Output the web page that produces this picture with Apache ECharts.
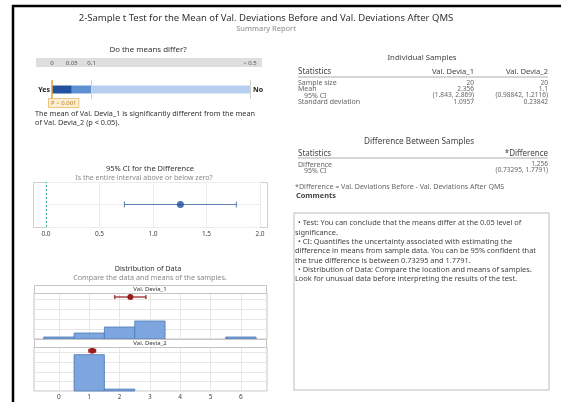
<!DOCTYPE html>
<html><head><meta charset="utf-8">
<script src="https://cdn.jsdelivr.net/npm/echarts@6/dist/echarts.min.js"></script>
<style>html,body{margin:0;padding:0;background:#fff}#c{width:561px;height:402px}</style>
</head><body><div id="c"></div>
<script>
// ---- test results ----
const pValue = 0.001;
const pBounds = [0, 0.05, 0.1, 0.5];          // evidence bar segments
const pTickLabels = ['0', '0.05', '0.1', '> 0.5'];
const diffEstimate = 1.256;
const diffCI = [0.73295, 1.7791];
const ciTicks = [0, 0.5, 1.0, 1.5, 2.0];

// ---- samples ----
const sampleNames = ['Val. Devia_1', 'Val. Devia_2'];
const sampleSize = [20, 20];
const means = [2.356, 1.1];
const meanCI = [[1.843, 2.869], [0.98842, 1.2116]];
const stdDev = [1.0957, 0.23842];

// ---- histograms (unit-width bins centred on the integers) ----
const binCenters = [0, 1, 2, 3, 4, 5, 6];
const countsBefore = [1, 3, 6, 9, 0, 0, 1];
const countsAfter = [0, 19, 1, 0, 0, 0, 0];
const histTicks = [0, 1, 2, 3, 4, 5, 6];

const commentLines = [
  ['• Test: You can conclude that the means differ at the 0.05 level of', 1],
  ['significance.', 0],
  ['• CI: Quantifies the uncertainty associated with estimating the', 1],
  ['difference in means from sample data. You can be 95% confident that', 0],
  ['the true difference is between 0.73295 and 1.7791.', 0],
  ['• Distribution of Data: Compare the location and means of samples.', 1],
  ['Look for unusual data before interpreting the results of the test.', 0]
];

const FONT = 'Noto Sans';
const MEAN_ROW = 21;   // height at which the mean / CI marker sits in each panel
const HIST_MAX = 23;

function txt(x, y, text, o) {
  o = o || {};
  return {
    type: 'text', x: x, y: y, silent: true, z: 10,
    style: {
      text: text, fontFamily: FONT, fontSize: o.size || 7,
      fontWeight: o.weight || 'normal', fill: o.color || '#333',
      textAlign: o.align || 'left', textVerticalAlign: 'middle'
    }
  };
}
function hline(x1, x2, y, color, w) {
  return { type: 'line', silent: true, shape: { x1: x1, y1: y, x2: x2, y2: y },
    style: { stroke: color, lineWidth: w } };
}

const graphics = [];
// frame
graphics.push(hline(12, 561, 6, '#000', 2.5));
graphics.push({ type: 'line', silent: true, shape: { x1: 13, y1: 5, x2: 13, y2: 402 }, style: { stroke: '#000', lineWidth: 2.5 } });
// titles
graphics.push(txt(266, 18, '2-Sample t Test for the Mean of Val. Deviations Before and Val. Deviations After QMS', { size: 9.5, align: 'center', color: '#333' }));
graphics.push(txt(266, 29, 'Summary Report', { size: 7.5, align: 'center', color: '#8a8a8a' }));
// evidence bar
graphics.push(txt(148, 50, 'Do the means differ?', { size: 7.9, align: 'center' }));
graphics.push({ type: 'rect', silent: true, z: 0, shape: { x: 36, y: 58, width: 226, height: 9 }, style: { fill: '#dedede' } });
graphics.push(txt(35, 114, 'The mean of Val. Devia_1 is significantly different from the mean', { size: 7.3 }));
graphics.push(txt(35, 123, 'of Val. Devia_2 (p < 0.05).', { size: 7.3 }));
// CI panel
graphics.push(txt(150, 169, '95% CI for the Difference', { size: 7.5, align: 'center', color: '#333' }));
graphics.push(txt(144, 178, 'Is the entire interval above or below zero?', { size: 7, align: 'center', color: '#8a8a8a' }));
graphics.push({ type: 'rect', silent: true, z: 0, shape: { x: 33.5, y: 182.5, width: 234, height: 45 }, style: { fill: 'none', stroke: '#cfcfcf', lineWidth: 1 } });
// distribution panel
graphics.push(txt(148, 269, 'Distribution of Data', { size: 7.2, align: 'center', color: '#333' }));
graphics.push(txt(150, 278, 'Compare the data and means of the samples.', { size: 7.2, align: 'center', color: '#8a8a8a' }));
[[285, sampleNames[0]], [339, sampleNames[1]]].forEach(function (s) {
  graphics.push({ type: 'rect', silent: true, z: 5, shape: { x: 34.5, y: s[0] + 0.5, width: 232, height: 8 }, style: { fill: '#fff', stroke: '#c4c4c4', lineWidth: 1 } });
  graphics.push(txt(150, s[0] + 4.5, s[1], { size: 6, align: 'center' }));
});

// Individual samples table
const RX1 = 474, RX2 = 548, LX = 298;
graphics.push(txt(422, 58, 'Individual Samples', { size: 7.8, align: 'center', color: '#444' }));
graphics.push(txt(LX, 72, 'Statistics', { size: 8, color: '#444' }));
graphics.push(txt(RX1, 72, sampleNames[0], { size: 7.6, align: 'right', color: '#444' }));
graphics.push(txt(RX2, 72, sampleNames[1], { size: 7.6, align: 'right', color: '#444' }));
graphics.push(hline(LX, RX2, 77, '#c8c8c8', 1.5));
const ciText = function (c) { return '(' + c[0] + ', ' + c[1] + ')'; };
const rows = [
  ['Sample size', LX, sampleSize.map(String)],
  ['Mean', LX, means.map(String)],
  ['95% CI', LX + 6, meanCI.map(ciText)],
  ['Standard deviation', LX, stdDev.map(String)]
];
rows.forEach(function (r, i) {
  const y = 83 + i * 6.3;
  graphics.push(txt(r[1], y, r[0], { size: 7, color: '#666' }));
  graphics.push(txt(RX1, y, r[2][0], { size: 6.6, align: 'right', color: '#666' }));
  graphics.push(txt(RX2, y, r[2][1], { size: 6.6, align: 'right', color: '#666' }));
});

// Difference table
graphics.push(txt(419, 142, 'Difference Between Samples', { size: 8.2, align: 'center', color: '#444' }));
graphics.push(txt(LX, 154, 'Statistics', { size: 8, color: '#444' }));
graphics.push(txt(RX2, 154, '*Difference', { size: 8, align: 'right', color: '#444' }));
graphics.push(hline(LX, RX2, 158, '#c8c8c8', 1.5));
graphics.push(txt(LX, 164.5, 'Difference', { size: 7, color: '#666' }));
graphics.push(txt(RX2, 164.5, String(diffEstimate), { size: 6.6, align: 'right', color: '#666' }));
graphics.push(txt(LX + 6, 170.5, '95% CI', { size: 7, color: '#666' }));
graphics.push(txt(RX2, 170.5, ciText(diffCI), { size: 6.6, align: 'right', color: '#666' }));
graphics.push(txt(295, 187, '*Difference = Val. Deviations Before - Val. Deviations After QMS', { size: 7.1, color: '#666' }));
graphics.push(txt(296, 196, 'Comments', { size: 7.4, weight: 'bold', color: '#444' }));
graphics.push({ type: 'rect', silent: true, shape: { x: 294, y: 213, width: 255, height: 177 }, style: { fill: '#fff', stroke: '#d4d4d4', lineWidth: 1.5 } });
commentLines.forEach(function (c, i) {
  graphics.push(txt(c[1] ? 298 : 295, 223.3 + i * 9.3, c[0], { size: 7.4, color: '#444' }));
});

// ---- series helpers ----
function histSeries(counts, gi) {
  const data = [];
  binCenters.forEach(function (c, i) { if (counts[i] > 0) data.push([c - 0.5, c + 0.5, counts[i]]); });
  return {
    type: 'custom', xAxisIndex: gi, yAxisIndex: gi + 1, data: data, encode: { x: [0, 1], y: 2 },
    renderItem: function (params, api) {
      const a = api.coord([api.value(0), api.value(2)]);
      const b = api.coord([api.value(1), 0]);
      return { type: 'rect', shape: { x: a[0], y: a[1], width: b[0] - a[0], height: b[1] - a[1] },
        style: { fill: '#7ea6de', stroke: '#4b77b6', lineWidth: 0.8 } };
    }
  };
}
function meanSeries(k, gi) {
  return {
    type: 'custom', xAxisIndex: gi, yAxisIndex: gi + 1, z: 4,
    data: [[means[k], meanCI[k][0], meanCI[k][1], MEAN_ROW]], encode: { x: [0, 1, 2], y: 3 },
    renderItem: function (params, api) {
      const y = api.value(3);
      const m = api.coord([api.value(0), y]);
      const lo = api.coord([api.value(1), y]);
      const hi = api.coord([api.value(2), y]);
      const st = { stroke: '#9a1a1a', lineWidth: 1.2 };
      return { type: 'group', children: [
        { type: 'line', shape: { x1: lo[0], y1: lo[1], x2: hi[0], y2: hi[1] }, style: st },
        { type: 'line', shape: { x1: lo[0], y1: lo[1] - 2, x2: lo[0], y2: lo[1] + 2 }, style: st },
        { type: 'line', shape: { x1: hi[0], y1: hi[1] - 2, x2: hi[0], y2: hi[1] + 2 }, style: st },
        { type: 'circle', shape: { cx: m[0], cy: m[1], r: 3 }, style: { fill: '#9a1a1a' } }
      ] };
    }
  };
}

const histXAxis = function (gi, showLabels) {
  return {
    type: 'value', gridIndex: gi, min: -0.82, max: 6.86,
    axisLine: { show: false },
    axisTick: { show: false, customValues: histTicks },
    axisLabel: { show: showLabels, customValues: histTicks, fontFamily: FONT, fontSize: 6.5, color: '#444', margin: 3 },
    splitLine: { show: true, lineStyle: { color: '#e6e6e6', width: 1 } }
  };
};
const histYAxis = function (gi) {
  return { type: 'value', gridIndex: gi, min: 0, max: HIST_MAX, interval: 5,
    axisLine: { show: false }, axisTick: { show: false }, axisLabel: { show: false },
    splitLine: { show: true, lineStyle: { color: '#e6e6e6', width: 1 } } };
};

const segColors = ['#22519f', '#6090d2', '#b7cfee'];
const pSeries = segColors.map(function (col, i) {
  const s = {
    type: 'bar', stack: 'p', xAxisIndex: 0, yAxisIndex: 0, barWidth: 8,
    data: [pBounds[i + 1] - pBounds[i]], itemStyle: { color: col }, silent: true
  };
  if (i === 0) {
    s.markLine = {
      symbol: 'none', silent: true, animation: false,
      data: [
        { xAxis: pBounds[2], lineStyle: { color: '#d2d2d2', width: 1, type: 'solid' }, label: { show: false } },
        { xAxis: pBounds[3], lineStyle: { color: '#d2d2d2', width: 1, type: 'solid' }, label: { show: false } },
        { xAxis: pValue, lineStyle: { color: '#e9a23b', width: 1.5, type: 'solid' },
          label: { show: true, position: 'start', align: 'left', offset: [-3, 0], formatter: 'P < ' + pValue.toFixed(3),
            fontFamily: FONT, fontSize: 6, color: '#c27a14', backgroundColor: '#fdf0d6',
            borderColor: '#e9b35e', borderWidth: 0.8, padding: [1, 2], distance: 0 } }
      ]
    };
  }
  return s;
});

const option = {
  animation: false,
  backgroundColor: '#fff',
  graphic: { elements: graphics },
  grid: [
    { left: 52, top: 80, width: 198, height: 19 },
    { left: 46, top: 182, width: 214, height: 45 },
    { left: 34, top: 293, width: 233, height: 46, show: true, borderColor: '#c4c4c4', borderWidth: 1, backgroundColor: 'transparent' },
    { left: 34, top: 347, width: 233, height: 44, show: true, borderColor: '#c4c4c4', borderWidth: 1, backgroundColor: 'transparent' }
  ],
  xAxis: [
    { type: 'value', gridIndex: 0, min: pBounds[0], max: pBounds[3], interval: 0.05, position: 'top',
      axisLine: { show: false }, axisTick: { show: false }, splitLine: { show: false },
      axisLabel: { margin: 14, fontFamily: FONT, fontSize: 6, color: '#555',
        formatter: function (v) { const k = pBounds.findIndex(function (b) { return Math.abs(b - v) < 1e-9; }); return k >= 0 ? pTickLabels[k] : ''; } } },
    { type: 'value', gridIndex: 1, min: ciTicks[0], max: ciTicks[ciTicks.length - 1], interval: 0.5,
      axisLine: { show: false }, axisTick: { show: false },
      axisLabel: { margin: 4, fontFamily: FONT, fontSize: 6.5, color: '#444', formatter: function (v) { return v.toFixed(1); } },
      splitLine: { show: true, lineStyle: { color: '#ececec', width: 1 } } },
    histXAxis(2, false),
    histXAxis(3, true)
  ],
  yAxis: [
    { type: 'category', gridIndex: 0, data: ['Yes'], axisLine: { show: false }, axisTick: { show: false },
      axisLabel: { margin: 2, fontFamily: FONT, fontSize: 7, fontWeight: 'bold', color: '#222' } },
    { type: 'category', gridIndex: 0, position: 'right', data: ['No'], axisLine: { show: false }, axisTick: { show: false },
      axisLabel: { margin: 3, fontFamily: FONT, fontSize: 7, fontWeight: 'bold', color: '#222' } },
    { type: 'value', gridIndex: 1, min: 0, max: 2, interval: 1, show: true,
      axisLine: { show: false }, axisTick: { show: false }, axisLabel: { show: false },
      splitLine: { show: true, lineStyle: { color: '#ececec', width: 1 } } },
    histYAxis(2),
    histYAxis(3)
  ],
  series: pSeries.concat([
    { type: 'custom', xAxisIndex: 1, yAxisIndex: 2, data: [[diffCI[0], diffCI[1], 1]], encode: { x: [0, 1], y: 2 },
      renderItem: function (params, api) {
        const a = api.coord([api.value(0), api.value(2)]);
        const b = api.coord([api.value(1), api.value(2)]);
        const st = { stroke: '#5b7fb4', lineWidth: 1 };
        return { type: 'group', children: [
          { type: 'line', shape: { x1: a[0], y1: a[1], x2: b[0], y2: b[1] }, style: st },
          { type: 'line', shape: { x1: a[0], y1: a[1] - 3, x2: a[0], y2: a[1] + 3 }, style: st },
          { type: 'line', shape: { x1: b[0], y1: b[1] - 3, x2: b[0], y2: b[1] + 3 }, style: st }
        ] };
      },
      markLine: { symbol: 'none', silent: true, label: { show: false },
        lineStyle: { color: '#3bb3a3', type: [2, 2], width: 1 }, data: [{ xAxis: 0 }] } },
    { type: 'scatter', xAxisIndex: 1, yAxisIndex: 2, data: [[diffEstimate, 1]], symbolSize: 7,
      itemStyle: { color: '#1b4e9f' }, z: 5 },
    histSeries(countsBefore, 2),
    histSeries(countsAfter, 3),
    meanSeries(0, 2),
    meanSeries(1, 3)
  ])
};

const chart = echarts.init(document.getElementById('c'), null, { renderer: 'canvas' });
chart.setOption(option);
</script>
</body></html>
